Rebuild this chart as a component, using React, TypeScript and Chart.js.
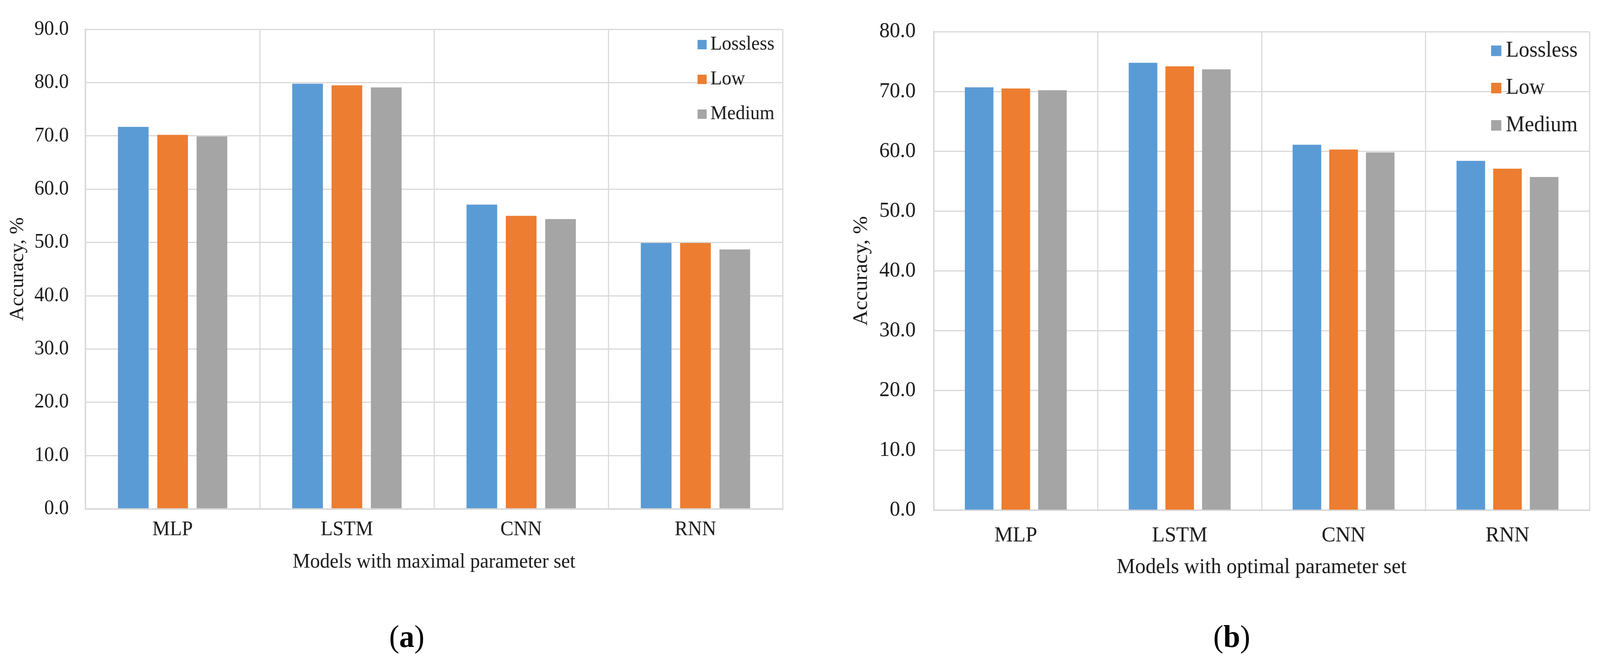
import React, { useEffect, useRef } from 'react';
import { Chart, registerables } from 'chart.js';

Chart.register(...registerables);

// ---------- data ----------
const categories = ['MLP', 'LSTM', 'CNN', 'RNN'];
const seriesLabels = ['Lossless', 'Low', 'Medium'];
const seriesColors = ['#5B9BD5', '#ED7D31', '#A5A5A5'];

// (a) models with maximal parameter set
const maxLossless = [71.7, 79.8, 57.1, 49.9];
const maxLow = [70.2, 79.5, 55.0, 49.9];
const maxMedium = [69.9, 79.1, 54.4, 48.7];

// (b) models with optimal parameter set
const optLossless = [70.7, 74.8, 61.1, 58.4];
const optLow = [70.5, 74.2, 60.3, 57.1];
const optMedium = [70.2, 73.7, 59.8, 55.7];

const yMaxA = 90;
const yMaxB = 80;
const yStep = 10;

const yTitle = 'Accuracy, %';
const xTitleA = 'Models with maximal parameter set';
const xTitleB = 'Models with optimal parameter set';

// ---------- styling ----------
const FONT = '"Liberation Serif", "Times New Roman", serif';
const TEXT = '#1a1a1a';
const GRID = '#D9D9D9';
const DESIGN_W = 4232;
const DESIGN_H = 1692;

const insideLegend = {
  id: 'insideLegend',
  afterDraw(chart: any, _args: any, opts: any) {
    const { ctx, chartArea } = chart;
    ctx.save();
    ctx.font = `${opts.fontSize}px ${FONT}`;
    ctx.textBaseline = 'middle';
    ctx.textAlign = 'left';
    chart.data.datasets.forEach((ds: any, i: number) => {
      const cy = chartArea.top + opts.firstRow + i * opts.rowGap;
      const x = chartArea.right - opts.fromRight;
      ctx.fillStyle = ds.backgroundColor;
      ctx.fillRect(x, cy - opts.box / 2, opts.box, opts.box);
      ctx.fillStyle = TEXT;
      ctx.fillText(ds.label, x + opts.textOffset, cy);
    });
    ctx.restore();
  },
};

type Params = {
  series: number[][];
  yMax: number;
  xTitle: string;
  fontSize: number;
  padTop: number;
  padRight: number;
  yWidth: number;
  xHeight: number;
  yTickPad: number;
  yTitlePad: number;
  xTickPad: number;
  xTitlePad: number;
  legend: any;
  catPct: number;
  barPct: number;
};

function makeConfig(p: Params): any {
  const font = { family: FONT, size: p.fontSize };
  return {
    type: 'bar',
    data: {
      labels: categories,
      datasets: seriesLabels.map((label, i) => ({
        label,
        data: p.series[i],
        backgroundColor: seriesColors[i],
        borderWidth: 0,
        categoryPercentage: p.catPct,
        barPercentage: p.barPct,
      })),
    },
    options: {
      responsive: false,
      animation: false,
      devicePixelRatio: 1,
      layout: { padding: { left: 0, top: p.padTop, right: p.padRight, bottom: 0 } },
      plugins: {
        legend: { display: false },
        tooltip: { enabled: false },
        insideLegend: p.legend,
      },
      scales: {
        x: {
          grid: { color: GRID, lineWidth: 3, drawTicks: false, offset: true },
          border: { display: true, color: GRID, width: 4 },
          ticks: { font, color: TEXT, padding: p.xTickPad, maxRotation: 0 },
          title: {
            display: true,
            text: p.xTitle,
            font,
            color: TEXT,
            padding: { top: 0, bottom: p.xTitlePad },
          },
          afterFit: (scale: any) => {
            scale.height = p.xHeight;
          },
        },
        y: {
          min: 0,
          max: p.yMax,
          grid: { color: GRID, lineWidth: 3, drawTicks: false },
          border: { display: true, color: GRID, width: 4 },
          ticks: {
            stepSize: yStep,
            font,
            color: TEXT,
            padding: p.yTickPad,
            callback: (v: any) => Number(v).toFixed(1),
          },
          title: {
            display: true,
            text: yTitle,
            font,
            color: TEXT,
            padding: { top: p.yTitlePad, bottom: 0 },
          },
          afterFit: (scale: any) => {
            scale.width = p.yWidth;
          },
        },
      },
    },
    plugins: [insideLegend],
  };
}

const paramsA: Params = {
  series: [maxLossless, maxLow, maxMedium],
  yMax: yMaxA,
  xTitle: xTitleA,
  fontSize: 52,
  padTop: 47,
  padRight: 46,
  yWidth: 226,
  xHeight: 197.5,
  yTickPad: 44,
  yTitlePad: 16,
  xTickPad: 23,
  xTitlePad: 29,
  legend: { fromRight: 225, box: 24, textOffset: 34, firstRow: 39, rowGap: 89, fontSize: 50 },
  catPct: 0.677,
  barPct: 0.78,
};

const paramsB: Params = {
  series: [optLossless, optLow, optMedium],
  yMax: yMaxB,
  xTitle: xTitleB,
  fontSize: 55,
  padTop: 44,
  padRight: 28,
  yWidth: 354,
  xHeight: 214,
  yTickPad: 48,
  yTitlePad: 130,
  xTickPad: 33,
  xTitlePad: 34,
  legend: { fromRight: 260, box: 27, textOffset: 39, firstRow: 49, rowGap: 95.5, fontSize: 56 },
  catPct: 0.671,
  barPct: 0.78,
};

function BarPanel({ params, left, width, height }: { params: Params; left: number; width: number; height: number }) {
  const ref = useRef<HTMLCanvasElement | null>(null);
  useEffect(() => {
    if (!ref.current) return;
    const chart = new Chart(ref.current, makeConfig(params));
    return () => chart.destroy();
  }, [params]);
  return (
    <canvas
      ref={ref}
      width={width}
      height={height}
      style={{ position: 'absolute', left, top: 0, width, height }}
    />
  );
}

function PanelLabel({ letter, centerX }: { letter: string; centerX: number }) {
  return (
    <div
      style={{
        position: 'absolute',
        left: centerX - 200,
        top: 1589,
        width: 400,
        height: 80,
        lineHeight: '80px',
        fontSize: 80,
        fontFamily: FONT,
        color: '#000',
        textAlign: 'center',
        whiteSpace: 'nowrap',
      }}
    >
      (<b>{letter}</b>)
    </div>
  );
}

export default function App() {
  const vw = typeof window !== 'undefined' && window.innerWidth ? window.innerWidth : DESIGN_W;
  const vh = typeof window !== 'undefined' && window.innerHeight ? window.innerHeight : DESIGN_H;
  const sx = Math.min(1, vw / DESIGN_W);
  const sy = Math.min(1, vh / DESIGN_H);
  return (
    <div
      style={{
        position: 'fixed',
        left: 0,
        top: 0,
        width: DESIGN_W * sx,
        height: DESIGN_H * sy,
        overflow: 'hidden',
        background: '#ffffff',
      }}
    >
      <div
        style={{
          position: 'absolute',
          left: 0,
          top: 0,
          width: DESIGN_W,
          height: DESIGN_H,
          background: '#ffffff',
          transform: `scale(${sx}, ${sy})`,
          transformOrigin: '0 0',
        }}
      >
        <BarPanel params={paramsA} left={0} width={2116} height={1500} />
        <BarPanel params={paramsB} left={2116} width={2116} height={1520} />
        <PanelLabel letter="a" centerX={1076} />
        <PanelLabel letter="b" centerX={3258} />
      </div>
    </div>
  );
}
